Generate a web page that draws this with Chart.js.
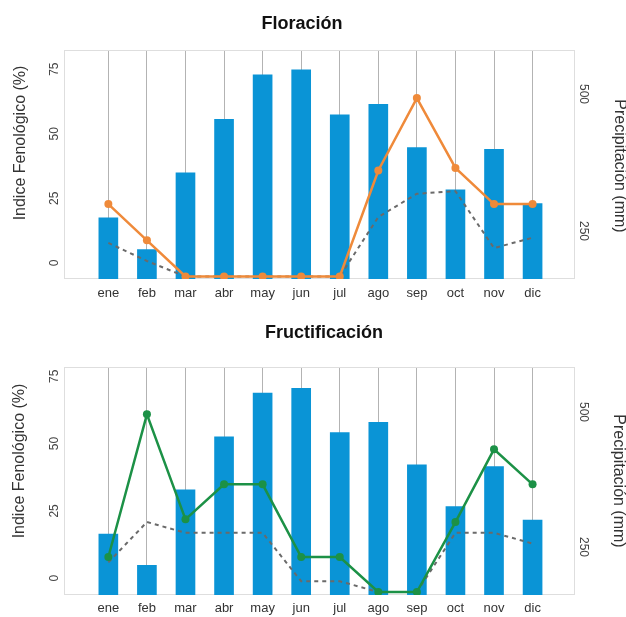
<!DOCTYPE html>
<html>
<head>
<meta charset="utf-8">
<script src="https://cdn.jsdelivr.net/npm/chart.js@4"></script>
<style>
  body { margin: 0; background: #fff; }
  canvas { position: absolute; left: 0; }
  #floracion { top: 0; }
  #fructificacion { top: 300px; }
</style>
</head>
<body>
<canvas id="floracion" width="626" height="300"></canvas>
<canvas id="fructificacion" width="626" height="317"></canvas>
<script>
const meses = ['ene', 'feb', 'mar', 'abr', 'may', 'jun', 'jul', 'ago', 'sep', 'oct', 'nov', 'dic'];
const precipitacion = [274, 216, 356, 454, 535, 544, 462, 481, 402, 325, 399, 300];
const floracion = [28, 14, 0, 0, 0, 0, 0, 41, 69, 42, 28, 28];
const floracion2 = [13, 6, 0, 0, 0, 0, 0, 23, 32, 33, 11, 15];
const fructificacion = [13, 66, 27, 40, 40, 13, 13, 0, 0, 26, 53, 40];
const fructificacion2 = [11, 26, 22, 22, 22, 4, 4, 0, 0, 22, 22, 18];
const ticksIndice = [0, 25, 50, 75];
const ticksPrecip = [250, 500];

const fuente = '"Liberation Sans", Arial, sans-serif';
const xy = serie => serie.map((v, i) => ({ x: i, y: v }));

// marco del area de trazado, titulo y rotulos de ejes
const rotulos = {
  id: 'rotulos',
  beforeDatasetsDraw(chart) {
    const { ctx, chartArea: a } = chart;
    ctx.save();
    ctx.strokeStyle = '#dedede';
    ctx.lineWidth = 1;
    ctx.strokeRect(a.left + 0.5, a.top + 0.5, a.width - 1, a.height - 1);
    ctx.restore();
  },
  afterDraw(chart, args, o) {
    const ctx = chart.ctx;
    ctx.save();
    ctx.textAlign = 'center';
    ctx.textBaseline = 'middle';
    ctx.fillStyle = '#111';
    ctx.font = 'bold 18px ' + fuente;
    ctx.fillText(o.titulo, o.tituloX, o.tituloY);

    ctx.fillStyle = '#333';
    ctx.font = '16px ' + fuente;
    ctx.save();
    ctx.translate(o.izqX, o.izqY);
    ctx.rotate(-Math.PI / 2);
    ctx.fillText('Indice Fenológico (%)', 0, 0);
    ctx.restore();
    ctx.save();
    ctx.translate(o.derX, o.derY);
    ctx.rotate(Math.PI / 2);
    ctx.fillText('Precipitación (mm)', 0, 0);
    ctx.restore();
    ctx.restore();
  }
};

function grafico(id, o) {
  new Chart(document.getElementById(id), {
    type: 'bar',
    data: {
      datasets: [{
        type: 'line',
        data: xy(o.linea),
        yAxisID: 'yLinea',
        borderColor: o.color,
        backgroundColor: o.color,
        borderWidth: 2.5,
        pointRadius: 4,
        pointBorderWidth: 0,
        tension: 0,
        order: 1
      }, {
        type: 'line',
        data: xy(o.punteada),
        yAxisID: 'yLinea',
        borderColor: '#6a6a6a',
        borderWidth: 2,
        borderDash: [4, 4],
        pointRadius: 0,
        tension: 0,
        order: 2
      }, {
        data: xy(precipitacion),
        yAxisID: 'yPrec',
        backgroundColor: '#0a94d6',
        barThickness: 19,
        order: 3
      }]
    },
    options: {
      responsive: false,
      animation: false,
      layout: { padding: { top: o.arriba, left: 0, right: 0, bottom: 0 } },
      plugins: {
        legend: { display: false },
        tooltip: { enabled: false },
        rotulos: o.rotulos
      },
      scales: {
        x: {
          type: 'linear',
          offset: false,
          min: -1.15,
          max: 12.1,
          afterBuildTicks: s => { s.ticks = meses.map((m, i) => ({ value: i })); },
          afterFit: s => { s.height = o.alto - o.abajo; },
          ticks: {
            callback: v => meses[v],
            autoSkip: false,
            maxRotation: 0,
            padding: o.padX,
            color: '#333',
            font: { family: fuente, size: 13 }
          },
          grid: { color: '#b3b3b3', drawTicks: false, offset: false },
          border: { display: false }
        },
        y: {
          position: 'left',
          min: o.yMin,
          max: o.yMax,
          afterBuildTicks: s => { s.ticks = ticksIndice.map(v => ({ value: v })); },
          afterFit: s => { s.width = 64; },
          ticks: {
            minRotation: 90,
            crossAlign: 'center',
            padding: 3,
            color: '#444',
            font: { family: fuente, size: 12 }
          },
          grid: { display: false, drawTicks: false },
          border: { display: false }
        },
        yLinea: {
          display: false,
          min: o.lMin,
          max: o.lMax
        },
        yPrec: {
          position: 'right',
          min: o.pMin,
          max: o.pMax,
          afterBuildTicks: s => { s.ticks = ticksPrecip.map(v => ({ value: v })); },
          afterFit: s => { s.width = 51; },
          ticks: {
            minRotation: -90,
            crossAlign: 'center',
            padding: -2,
            color: '#444',
            font: { family: fuente, size: 12 }
          },
          grid: { display: false, drawTicks: false },
          border: { display: false }
        }
      }
    },
    plugins: [rotulos]
  });
}

grafico('floracion', {
  linea: floracion, punteada: floracion2, color: '#ef8a3a',
  arriba: 50, alto: 300, abajo: 279, padX: 7,
  yMin: -6.2, yMax: 82.4, lMin: -0.97, lMax: 87.6, pMin: 162.4, pMax: 580.3,
  rotulos: { titulo: 'Floración', tituloX: 302, tituloY: 24, izqX: 21, izqY: 143, derX: 619, derY: 166 }
});

grafico('fructificacion', {
  linea: fructificacion, punteada: fructificacion2, color: '#1c9146',
  arriba: 67, alto: 317, abajo: 295, padX: 6,
  yMin: -6.24, yMax: 78.45, lMin: -1.11, lMax: 83.6, pMin: 161.1, pMax: 583.3,
  rotulos: { titulo: 'Fructificación', tituloX: 324, tituloY: 33, izqX: 20, izqY: 161, derX: 618, derY: 181 }
});
</script>
</body>
</html>
